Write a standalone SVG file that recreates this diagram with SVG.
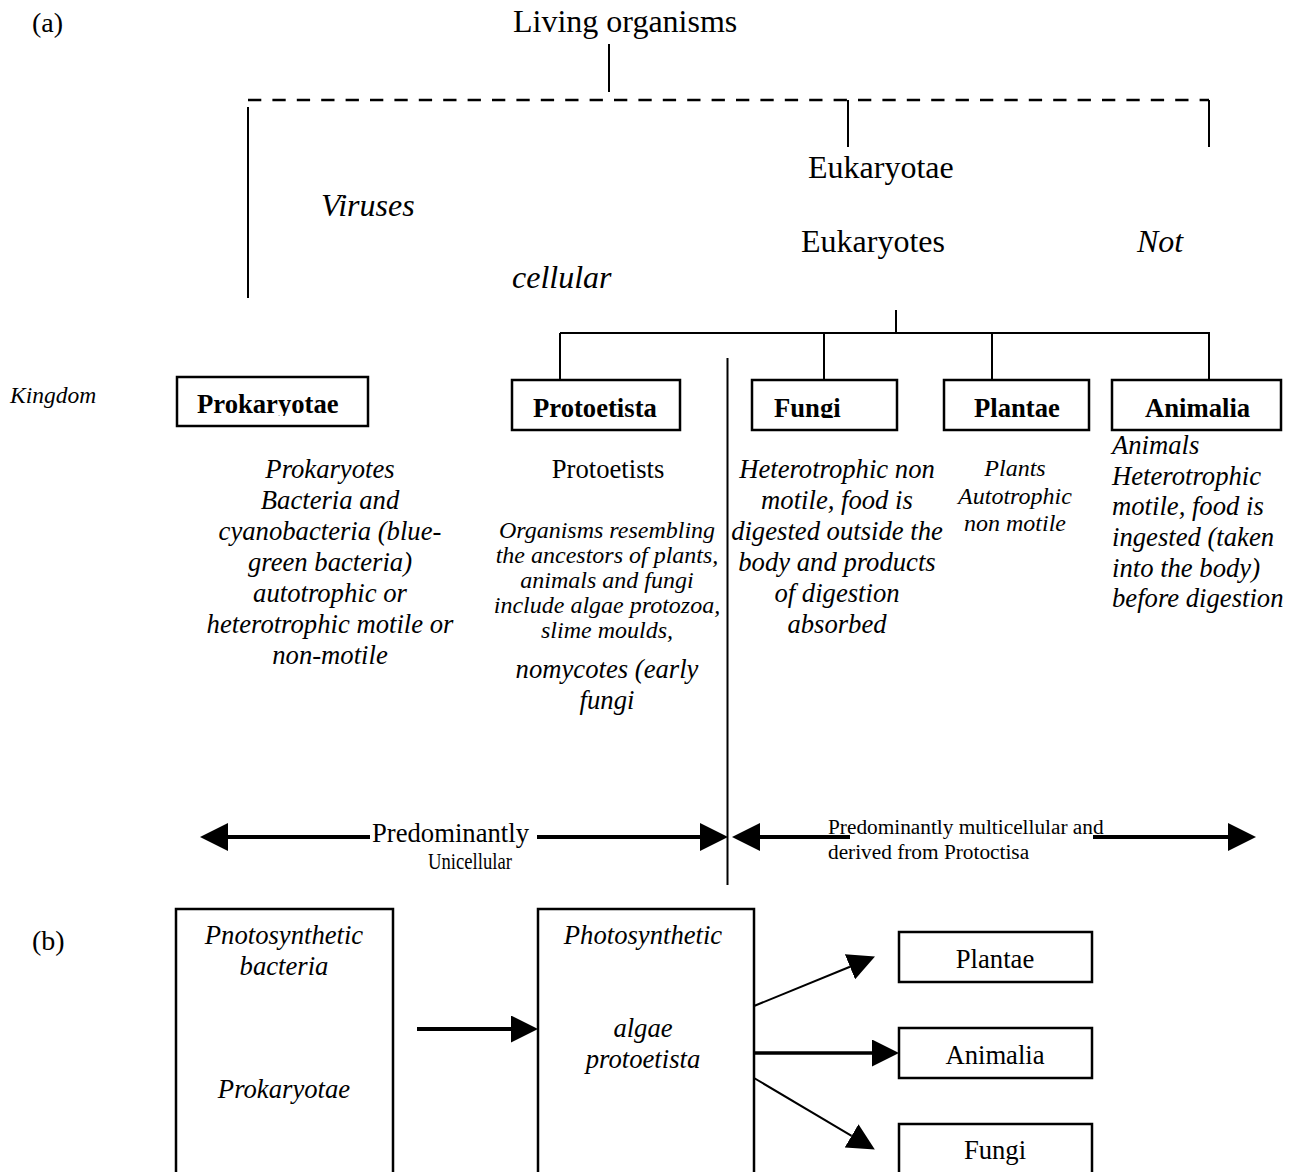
<svg xmlns="http://www.w3.org/2000/svg" width="1302" height="1172" viewBox="0 0 1302 1172">
<style>
text{font-family:"Liberation Serif","Times New Roman",serif;fill:#000}
.big{font-size:32px}
.it{font-style:italic}
.n{font-size:26.67px}
.b{font-size:26.67px;font-weight:bold}
.sm{font-size:24px}
.mid{text-anchor:middle}
.ln{stroke:#000;stroke-width:2;fill:none}
.box{stroke:#000;stroke-width:2.5;fill:#fff}
.thick{stroke:#000;stroke-width:4;fill:none}
</style>
<defs>
<marker id="ah" markerUnits="userSpaceOnUse" markerWidth="28" markerHeight="28" viewBox="0 0 28 28" refX="0" refY="14" orient="auto"><path d="M0,0 L28,14 L0,28 z" fill="#000"/></marker>
<marker id="ah2" markerUnits="userSpaceOnUse" markerWidth="27" markerHeight="27" viewBox="0 0 27 27" refX="0" refY="13.5" orient="auto"><path d="M0,0 L27,13.5 L0,27 z" fill="#000"/></marker>
<clipPath id="cpProk"><rect x="177" y="377" width="191" height="39"/></clipPath>
<clipPath id="cpFungi"><rect x="752" y="380" width="145" height="38"/></clipPath>
</defs>
<rect width="1302" height="1172" fill="#fff"/>

<g id="labels">
<text x="32" y="32" style="font-size:28px">(a)</text>
<text x="32" y="950" style="font-size:28px">(b)</text>
<text x="10" y="403" class="it" style="font-size:23.5px">Kingdom</text>
</g>

<g id="connectors">
<line class="ln" x1="609" y1="44" x2="609" y2="92"/>
<line x1="248" y1="100" x2="1209" y2="100" stroke="#000" stroke-width="2.5" stroke-dasharray="13.3,11.1"/>
<line class="ln" x1="248" y1="107" x2="248" y2="298"/>
<line class="ln" x1="848" y1="100" x2="848" y2="147"/>
<line class="ln" x1="1209" y1="100" x2="1209" y2="147"/>
<line class="ln" x1="896" y1="310" x2="896" y2="334"/>
<line class="ln" x1="560" y1="333" x2="1210" y2="333"/>
<line class="ln" x1="560" y1="333" x2="560" y2="380"/>
<line class="ln" x1="824" y1="333" x2="824" y2="380"/>
<line class="ln" x1="992" y1="333" x2="992" y2="380"/>
<line class="ln" x1="1209" y1="333" x2="1209" y2="380"/>
<line class="ln" x1="727.5" y1="358" x2="727.5" y2="885"/>
<path class="thick" d="M370,837 L228,837" marker-end="url(#ah)"/>
<path class="thick" d="M537,837 L700,837" marker-end="url(#ah)"/>
<path class="thick" d="M850,837 L760,837" marker-end="url(#ah)"/>
<path class="thick" d="M1093,837 L1228,837" marker-end="url(#ah)"/>
<path class="thick" d="M417,1029 L511,1029" marker-end="url(#ah2)"/>
<path d="M754,1006 L850,966.8" stroke="#000" stroke-width="2" fill="none" marker-end="url(#ah2)"/>
<path d="M754,1053 L872,1053" stroke="#000" stroke-width="3.5" fill="none" marker-end="url(#ah2)"/>
<path d="M754,1078 L851.6,1135.8" stroke="#000" stroke-width="2" fill="none" marker-end="url(#ah2)"/>
</g>

<g id="living-organisms"><text x="513" y="32" class="big">Living organisms</text></g>
<g id="eukaryotae">
<text x="808" y="178" class="big">Eukaryotae</text>
<text x="801" y="252" class="big">Eukaryotes</text>
</g>
<g id="viruses">
<text x="321" y="216" class="big it">Viruses</text>
<text x="1137" y="252" class="big it">Not</text>
<text x="512" y="288" class="big it">cellular</text>
</g>

<g id="prokaryotae">
<rect class="box" x="177" y="377" width="191" height="49"/>
<text x="197" y="413" class="b" clip-path="url(#cpProk)">Prokaryotae</text>
<text class="n it mid" x="330" y="478">Prokaryotes</text>
<text class="n it mid" x="330" y="509">Bacteria and</text>
<text class="n it mid" x="330" y="540">cyanobacteria (blue-</text>
<text class="n it mid" x="330" y="571">green bacteria)</text>
<text class="n it mid" x="330" y="602">autotrophic or</text>
<text class="n it mid" x="330" y="633">heterotrophic motile or</text>
<text class="n it mid" x="330" y="664">non-motile</text>
</g>

<g id="protoetista">
<rect class="box" x="512" y="380" width="168" height="50"/>
<text x="533" y="417" class="b">Protoetista</text>
<text class="n mid" x="608" y="478">Protoetists</text>
<text class="sm it mid" x="607" y="538">Organisms resembling</text>
<text class="sm it mid" x="607" y="563">the ancestors of plants,</text>
<text class="sm it mid" x="607" y="588">animals and fungi</text>
<text class="sm it mid" x="607" y="613">include algae protozoa,</text>
<text class="sm it mid" x="607" y="638">slime moulds,</text>
<text class="n it mid" x="607" y="678">nomycotes (early</text>
<text class="n it mid" x="607" y="709">fungi</text>
</g>

<g id="fungi">
<rect class="box" x="752" y="380" width="145" height="50"/>
<text x="774" y="417" class="b" clip-path="url(#cpFungi)">Fungi</text>
<text class="n it mid" x="837" y="478">Heterotrophic non</text>
<text class="n it mid" x="837" y="509">motile, food is</text>
<text class="n it mid" x="837" y="540">digested outside the</text>
<text class="n it mid" x="837" y="571">body and products</text>
<text class="n it mid" x="837" y="602">of digestion</text>
<text class="n it mid" x="837" y="633">absorbed</text>
</g>

<g id="plantae">
<rect class="box" x="944" y="380" width="145" height="50"/>
<text x="974" y="417" class="b">Plantae</text>
<text class="sm it mid" x="1015" y="476">Plants</text>
<text class="sm it mid" x="1015" y="504">Autotrophic</text>
<text class="sm it mid" x="1015" y="531">non motile</text>
</g>

<g id="animalia">
<rect class="box" x="1112" y="380" width="169" height="50"/>
<text x="1145" y="417" class="b">Animalia</text>
<text class="n it" x="1112" y="454">Animals</text>
<text class="n it" x="1112" y="485">Heterotrophic</text>
<text class="n it" x="1112" y="515">motile, food is</text>
<text class="n it" x="1112" y="546">ingested (taken</text>
<text class="n it" x="1112" y="577">into the body)</text>
<text class="n it" x="1112" y="607">before digestion</text>
</g>

<g id="unicellular">
<text class="n" x="372" y="842">Predominantly</text>
<text x="428" y="869" style="font-size:24px" textLength="84" lengthAdjust="spacingAndGlyphs">Unicellular</text>
</g>
<g id="multicellular">
<text x="828" y="834" style="font-size:21.3px">Predominantly multicellular and</text>
<text x="828" y="859" style="font-size:21.3px">derived from Protoctisa</text>
</g>

<g id="b-prokaryotae">
<rect class="box" x="176" y="909" width="217" height="300"/>
<text class="n it mid" x="284" y="944">Pnotosynthetic</text>
<text class="n it mid" x="284" y="975">bacteria</text>
<text class="n it mid" x="284" y="1098">Prokaryotae</text>
</g>
<g id="b-protoetista">
<rect class="box" x="538" y="909" width="216" height="300"/>
<text class="n it mid" x="643" y="944">Photosynthetic</text>
<text class="n it mid" x="643" y="1037">algae</text>
<text class="n it mid" x="643" y="1068">protoetista</text>
</g>
<g id="b-plantae">
<rect class="box" x="899" y="932" width="193" height="50"/>
<text class="n mid" x="995" y="968">Plantae</text>
</g>
<g id="b-animalia">
<rect class="box" x="899" y="1028" width="193" height="50"/>
<text class="n mid" x="995" y="1064">Animalia</text>
</g>
<g id="b-fungi">
<rect class="box" x="899" y="1124" width="193" height="80"/>
<text class="n mid" x="995" y="1159">Fungi</text>
</g>
</svg>
